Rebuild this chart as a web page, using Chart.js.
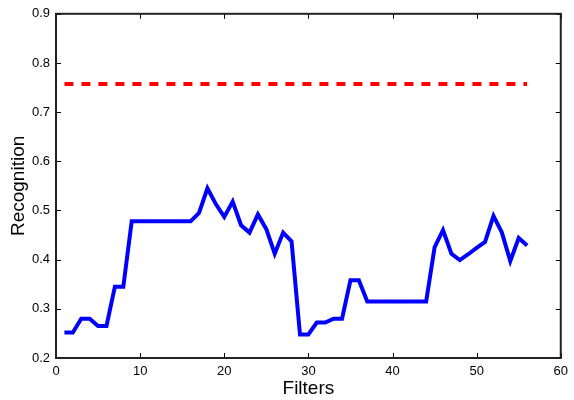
<!DOCTYPE html>
<html>
<head>
<meta charset="utf-8">
<script src="https://cdn.jsdelivr.net/npm/chart.js@4"></script>
<style>
html,body{margin:0;padding:0;background:#fff;}
#wrap{width:574px;height:400px;}
</style>
</head>
<body>
<div id="wrap"><canvas id="c" width="574" height="400"></canvas></div>
<script>
const filters = [1,2,3,4,5,6,7,8,9,10,11,12,13,14,15,16,17,18,19,20,21,22,23,24,25,26,27,28,29,30,31,32,33,34,35,36,37,38,39,40,41,42,43,44,45,46,47,48,49,50,51,52,53,54,55,56];
const recognition = [0.252,0.252,0.280,0.280,0.265,0.265,0.345,0.345,0.478,0.478,0.478,0.478,0.478,0.478,0.478,0.478,0.495,0.545,0.513,0.487,0.518,0.470,0.455,0.492,0.462,0.412,0.455,0.437,0.248,0.248,0.272,0.272,0.280,0.280,0.358,0.358,0.315,0.315,0.315,0.315,0.315,0.315,0.315,0.315,0.425,0.460,0.412,0.399,0.411,0.424,0.436,0.489,0.455,0.397,0.444,0.429];
const baselineValue = 0.757;
const baseline = filters.map(() => baselineValue);
const xTicks = [0,10,20,30,40,50,60];
const yTicks = [0.2,0.3,0.4,0.5,0.6,0.7,0.8,0.9];

const FONT = "'Liberation Sans', Arial, sans-serif";

const boxPlugin = {
  id: 'box',
  afterDraw(chart) {
    const {ctx, chartArea: a, scales: {x, y}} = chart;
    ctx.save();
    ctx.strokeStyle = '#000';
    ctx.lineWidth = 1;
    xTicks.forEach(v => {
      const px = Math.round(x.getPixelForValue(v)) + 0.5;
      ctx.beginPath();
      ctx.moveTo(px, a.bottom); ctx.lineTo(px, a.bottom - 5);
      ctx.moveTo(px, a.top); ctx.lineTo(px, a.top + 5);
      ctx.stroke();
    });
    yTicks.forEach(v => {
      const py = Math.round(y.getPixelForValue(v)) + 0.5;
      ctx.beginPath();
      ctx.moveTo(a.left, py); ctx.lineTo(a.left + 5, py);
      ctx.moveTo(a.right, py); ctx.lineTo(a.right - 5, py);
      ctx.stroke();
    });
    ctx.lineWidth = 2;
    ctx.strokeStyle = '#222';
    ctx.strokeRect(a.left, a.top, a.right - a.left, a.bottom - a.top);
    ctx.restore();
  }
};

new Chart(document.getElementById('c'), {
  type: 'line',
  data: {
    labels: filters,
    datasets: [
      {
        data: recognition,
        borderColor: '#0000ff',
        borderWidth: 4,
        pointRadius: 0,
        tension: 0,
        fill: false,
        borderJoinStyle: 'miter'
      },
      {
        data: baseline,
        borderColor: '#ff0000',
        borderWidth: 4,
        borderDash: [9, 8],
        borderCapStyle: 'butt',
        pointRadius: 0,
        fill: false
      }
    ]
  },
  options: {
    responsive: false,
    animation: false,
    devicePixelRatio: 1,
    layout: {padding: {left: 0, right: 10, top: 12, bottom: 0}},
    plugins: {legend: {display: false}, tooltip: {enabled: false}},
    scales: {
      x: {
        type: 'linear',
        min: 0, max: 60,
        afterBuildTicks: s => { s.ticks = xTicks.map(v => ({value: v})); },
        afterFit: s => { s.height = 42; },
        grid: {display: false, drawTicks: false},
        border: {display: false},
        ticks: {color: '#000', font: {family: FONT, size: 13}, padding: 6, maxRotation: 0},
        title: {display: true, text: 'Filters', color: '#000', font: {family: FONT, size: 19}, padding: {top: 0, bottom: 0}}
      },
      y: {
        type: 'linear',
        min: 0.2, max: 0.9,
        afterBuildTicks: s => { s.ticks = yTicks.map(v => ({value: v})); },
        afterFit: s => { s.width = 56; },
        grid: {display: false, drawTicks: false},
        border: {display: false},
        ticks: {color: '#000', font: {family: FONT, size: 13}, padding: 6, callback: v => v.toFixed(1)},
        title: {display: true, text: 'Recognition', color: '#000', font: {family: FONT, size: 19}, padding: {top: 7, bottom: 0}}
      }
    }
  },
  plugins: [boxPlugin]
});
</script>
</body>
</html>
